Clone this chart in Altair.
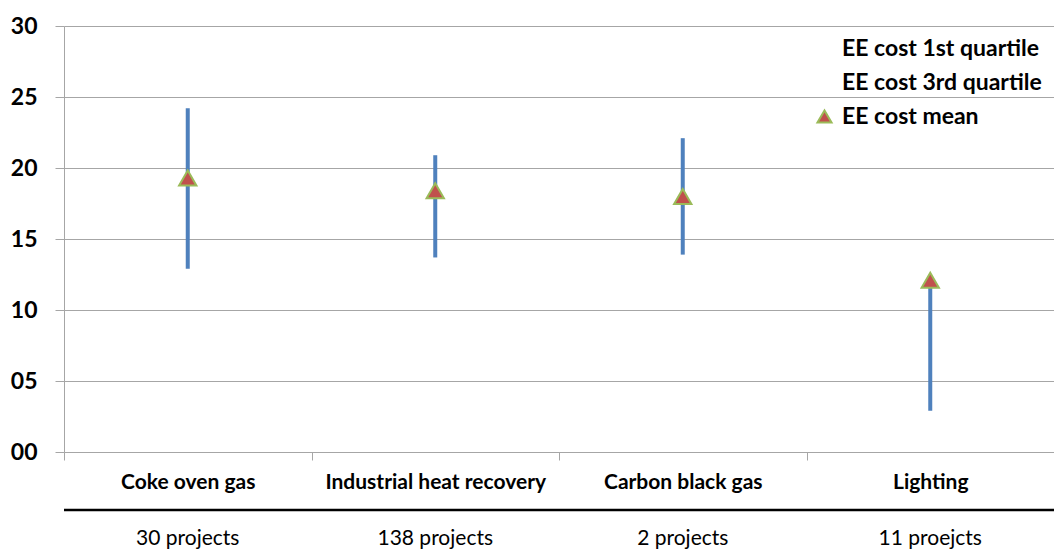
import altair as alt
import pandas as pd

categories = ["Coke oven gas", "Industrial heat recovery", "Carbon black gas", "Lighting"]
projects = ["30 projects", "138 projects", "2 projects", "11 proejcts"]
q1 = [12.9, 13.7, 13.9, 2.9]
q3 = [24.2, 20.9, 22.1, 12.0]
mean = [19.3, 18.4, 18.0, 12.1]
series_names = ["EE cost 1st quartile", "EE cost 3rd quartile", "EE cost mean"]
y_ticks = [0, 5, 10, 15, 20, 25, 30]

FONT = "Lato"
W, H = 990, 426
GRAY = "#a6a6a6"

df = pd.DataFrame({
    "category": categories,
    "projects": projects,
    "q1": q1,
    "q3": q3,
    "mean": mean,
    "series": ["EE cost mean"] * len(categories),
})

x = alt.X("category:N", sort=categories, title=None,
          scale=alt.Scale(paddingInner=0, paddingOuter=0),
          axis=alt.Axis(labelAngle=0, labelFont=FONT, labelFontSize=21, labelFontWeight="bold",
                        labelColor="black", labelPadding=11, labelLimit=400, tickBand="extent",
                        tickSize=8, tickColor=GRAY, domainColor=GRAY, grid=False))

y_scale = alt.Scale(domain=[0, 30], nice=False)
y_axis = alt.Axis(values=y_ticks, format="02d", labelFont=FONT, labelFontSize=23,
                  labelFontWeight="bold", labelColor="black", tickSize=9, labelPadding=18,
                  tickColor=GRAY, domainColor=GRAY, gridColor=GRAY, title=None)

legend = alt.Legend(title=None, orient="none", legendX=749, legendY=11,
                    labelFont=FONT, labelFontSize=23, labelFontWeight="bold",
                    labelColor="black", labelLimit=400, symbolType="triangle-up",
                    symbolSize=200, symbolStrokeWidth=2, rowPadding=10, labelOffset=6)

base = alt.Chart(df)

rules = base.mark_rule(color="#4f81bd", strokeWidth=4).encode(
    x=x,
    y=alt.Y("q1:Q", scale=y_scale, axis=y_axis),
    y2="q3:Q",
)

points = base.mark_point(shape="triangle-up", filled=True, size=300, strokeWidth=2, opacity=1).encode(
    x=x,
    y=alt.Y("mean:Q", scale=y_scale),
    fill=alt.Fill("series:N", scale=alt.Scale(domain=series_names,
                  range=["transparent", "transparent", "#c0504d"]), legend=legend),
    stroke=alt.Stroke("series:N", scale=alt.Scale(domain=series_names,
                      range=["transparent", "transparent", "#9bbb59"]), legend=legend),
)

proj_text = base.mark_text(font=FONT, fontSize=21, color="black", baseline="middle").encode(
    x=x,
    y=alt.value(513),
    text="projects:N",
)

sep_line = alt.Chart(pd.DataFrame({"k": [1]})).mark_rule(color="black", strokeWidth=2.5).encode(
    x=alt.value(0), x2=alt.value(W), y=alt.value(484)
)

chart = alt.layer(rules, points, proj_text, sep_line).properties(
    width=W, height=H,
    autosize=alt.AutoSizeParams(type="none"),
    padding={"left": 56, "top": 18, "right": 0, "bottom": 98},
).configure_view(stroke=None).configure_axisY(grid=True)

chart.save("out.html", embed_options={"renderer": "svg", "actions": False})
